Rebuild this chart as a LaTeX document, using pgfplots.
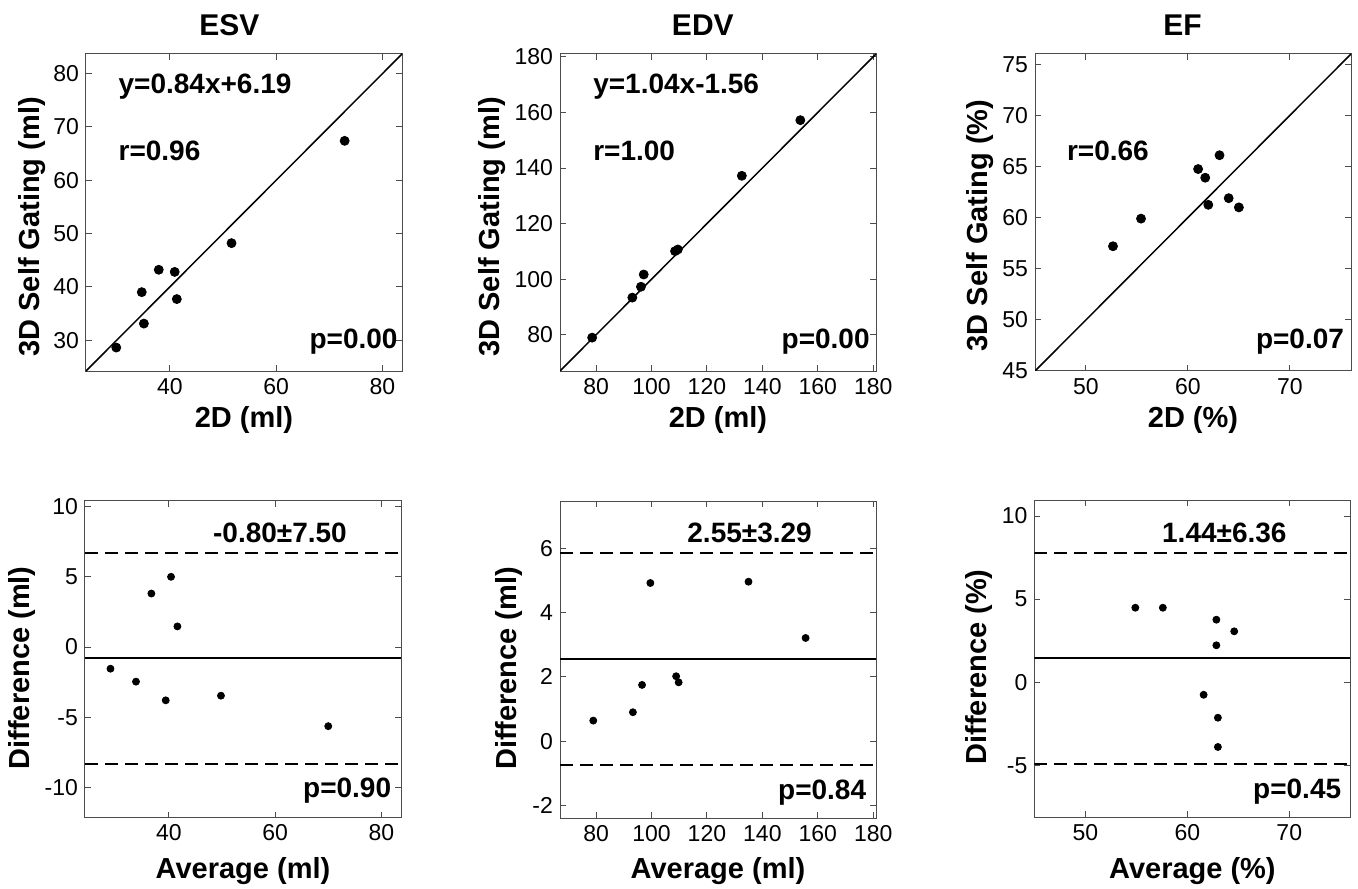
\documentclass[border=0pt]{standalone}
\usepackage{fontspec}
\setmainfont{Liberation Sans}
\usepackage{pgfplots}
\pgfplotsset{compat=1.18}

\pgfplotsset{
  panel/.style={
    width=158pt, height=158.5pt, scale only axis,
    anchor=north west,
    axis line style={black!70, line width=0.5pt},
    tick align=inside, major tick length=3pt,
    tick style={black!70, line width=0.5pt},
    xtick pos=both, ytick pos=both,
    tick label style={font=\fontsize{11.5}{13}\selectfont},
    /pgf/number format/assume math mode=true,
    scaled ticks=false,
    label style={font=\bfseries\fontsize{14.5}{17}\selectfont},
    every axis title shift=0pt,
    title style={font=\bfseries\fontsize{15}{17}\selectfont, anchor=center},
    clip mode=individual,
  },
  toprow/.style={xlabel style={at={(0.5,-0.155)}, anchor=center}},
  botrow/.style={xlabel style={at={(0.5,-0.168)}, anchor=center}},
  dots/.style={only marks, mark=*, mark size=2.25pt, black},
  smalldots/.style={only marks, mark=*, mark size=1.75pt, black},
  refline/.style={black, line width=0.75pt, mark=none},
  meanline/.style={black, line width=1pt, mark=none},
  limline/.style={black, line width=1pt, mark=none, dash pattern=on 6.5pt off 3.5pt},
}
\tikzset{ann/.style={font=\bfseries\fontsize{14}{16}\selectfont, inner sep=0pt}}

\begin{document}
\begin{tikzpicture}
\useasboundingbox (0,0) rectangle (679pt,-444pt);

% ---- top row: 3D self gating vs 2D ----
\begin{axis}[panel, toprow, at={(43pt,-27pt)},
  xmin=24.2, xmax=83.7, ymin=24.2, ymax=83.7,
  xtick={40,60,80}, ytick={30,40,...,80},
  title={ESV}, title style={at={(0.454,1.0915)}},
  xlabel={2D (ml)}, ylabel={3D Self Gating (ml)},
  ylabel style={at={(-0.172,0.455)}, anchor=center}]
\addplot[refline] coordinates {(24.2,24.2) (83.7,83.7)};
\addplot[dots] coordinates {
  (29.9,28.6) (34.7,39.0) (35.1,33.1) (37.9,43.2)
  (40.9,42.8) (41.3,37.7) (51.6,48.2) (72.9,67.4)};
\node[ann, anchor=west] at (rel axis cs:0.102,0.896) {y=0.84x+6.19};
\node[ann, anchor=west] at (rel axis cs:0.102,0.695) {r=0.96};
\node[ann, anchor=east] at (rel axis cs:0.987,0.092) {p=0.00};
\end{axis}

\begin{axis}[panel, toprow, at={(280pt,-27pt)},
  xmin=67, xmax=181, ymin=67, ymax=181,
  xtick={80,100,...,180}, ytick={80,100,...,180},
  title={EDV}, title style={at={(0.452,1.0915)}},
  xlabel={2D (ml)}, ylabel={3D Self Gating (ml)},
  ylabel style={at={(-0.216,0.455)}, anchor=center}]
\addplot[refline] coordinates {(67,67) (181,181)};
\addplot[dots] coordinates {
  (78.6,79.0) (93.1,93.4) (96.2,97.3) (97.2,101.7)
  (108.5,110.1) (109.5,110.7) (132.6,137.2) (153.7,157.2)};
\node[ann, anchor=west] at (rel axis cs:0.104,0.896) {y=1.04x-1.56};
\node[ann, anchor=west] at (rel axis cs:0.104,0.695) {r=1.00};
\node[ann, anchor=east] at (rel axis cs:0.981,0.092) {p=0.00};
\end{axis}

\begin{axis}[panel, toprow, at={(517.5pt,-27pt)},
  xmin=45, xmax=76, ymin=45, ymax=76,
  xtick={50,60,70}, ytick={45,50,...,75},
  title={EF}, title style={at={(0.467,1.0915)}},
  xlabel={2D (\%)}, ylabel={3D Self Gating (\%)},
  ylabel style={at={(-0.174,0.459)}, anchor=center}]
\addplot[refline] coordinates {(45,45) (76,76)};
\addplot[dots] coordinates {
  (52.65,57.2) (55.4,59.9) (61.0,64.75) (61.7,63.9)
  (62.0,61.25) (63.1,66.1) (64.0,61.9) (65.0,61.0)};
\node[ann, anchor=west] at (rel axis cs:0.100,0.695) {r=0.66};
\node[ann, anchor=east] at (rel axis cs:0.979,0.093) {p=0.07};
\end{axis}

% ---- bottom row: Bland-Altman ----
\begin{axis}[panel, botrow, at={(42.5pt,-250.25pt)},
  xmin=24.2, xmax=83.7, ymin=-12.13, ymax=10.43,
  xtick={40,60,80}, ytick={-10,-5,0,5,10},
  xlabel={Average (ml)}, ylabel={Difference (ml)},
  ylabel style={at={(-0.2,0.472)}, anchor=center}]
\addplot[meanline] coordinates {(24.2,-0.80) (83.7,-0.80)};
\addplot[limline] coordinates {(24.2,6.70) (83.7,6.70)};
\addplot[limline] coordinates {(24.2,-8.30) (83.7,-8.30)};
\addplot[smalldots] coordinates {
  (29.0,-1.54) (33.8,-2.46) (36.7,3.81) (39.4,-3.79)
  (40.4,5.0) (41.6,1.47) (49.8,-3.46) (70.0,-5.63)};
\node[ann, anchor=center] at (rel axis cs:0.617,0.897) {-0.80±7.50};
\node[ann, anchor=east] at (rel axis cs:0.970,0.084) {p=0.90};
\end{axis}

\begin{axis}[panel, botrow, at={(280pt,-250.5pt)},
  xmin=67, xmax=181, ymin=-2.39, ymax=7.47,
  xtick={80,100,...,180}, ytick={-2,0,...,6},
  xlabel={Average (ml)}, ylabel={Difference (ml)},
  ylabel style={at={(-0.163,0.472)}, anchor=center}]
\addplot[meanline] coordinates {(67,2.55) (181,2.55)};
\addplot[limline] coordinates {(67,5.84) (181,5.84)};
\addplot[limline] coordinates {(67,-0.74) (181,-0.74)};
\addplot[smalldots] coordinates {
  (79.0,0.64) (93.3,0.90) (96.6,1.75) (99.6,4.92)
  (108.9,2.02) (109.8,1.83) (135.0,4.96) (155.6,3.21)};
\node[ann, anchor=center] at (rel axis cs:0.600,0.898) {2.55±3.29};
\node[ann, anchor=east] at (rel axis cs:0.970,0.081) {p=0.84};
\end{axis}

\begin{axis}[panel, botrow, at={(517.2pt,-250.2pt)},
  xmin=45, xmax=76, ymin=-8.14, ymax=10.94,
  xtick={50,60,70}, ytick={-5,0,5,10},
  xlabel={Average (\%)}, ylabel={Difference (\%)},
  ylabel style={at={(-0.176,0.475)}, anchor=center}]
\addplot[meanline] coordinates {(45,1.44) (76,1.44)};
\addplot[limline] coordinates {(45,7.80) (76,7.80)};
\addplot[limline] coordinates {(45,-4.92) (76,-4.92)};
\addplot[smalldots] coordinates {
  (54.9,4.48) (57.6,4.48) (61.6,-0.76) (62.85,3.76)
  (62.85,2.22) (63.0,-2.14) (63.0,-3.9) (64.6,3.06)};
\node[ann, anchor=center] at (rel axis cs:0.601,0.898) {1.44±6.36};
\node[ann, anchor=east] at (rel axis cs:0.972,0.081) {p=0.45};
\end{axis}
\end{tikzpicture}
\end{document}
